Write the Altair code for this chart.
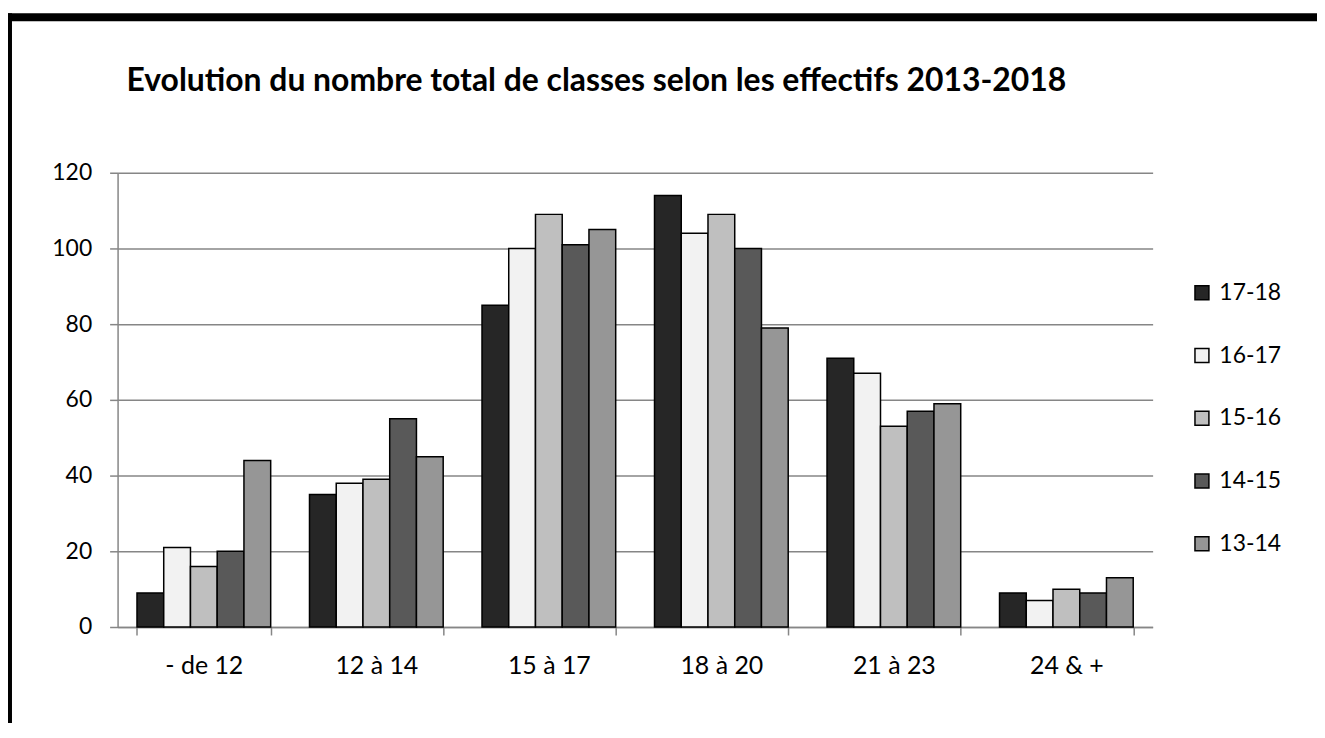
import altair as alt
import pandas as pd

# ---- data ----
categories = ["- de 12", "12 à 14", "15 à 17", "18 à 20", "21 à 23", "24 & +"]
series = ["17-18", "16-17", "15-16", "14-15", "13-14"]
colors = ["#262626", "#f2f2f2", "#bfbfbf", "#595959", "#969696"]
v_17_18 = [9, 35, 85, 114, 71, 9]
v_16_17 = [21, 38, 100, 104, 67, 7]
v_15_16 = [16, 39, 109, 109, 53, 10]
v_14_15 = [20, 55, 101, 100, 57, 9]
v_13_14 = [44, 45, 105, 79, 59, 13]
y_ticks = [0, 20, 40, 60, 80, 100, 120]
title_text = "Evolution du nombre total de classes selon les effectifs 2013-2018"

series_values = [v_17_18, v_16_17, v_15_16, v_14_15, v_13_14]
rows = []
for s, vals in zip(series, series_values):
    for c, v in zip(categories, vals):
        rows.append({"categorie": c, "annee": s, "valeur": v})
df = pd.DataFrame(rows)

FONT = "Lato"
GRID = "#868686"

bars = alt.Chart(df).mark_bar(stroke="black", strokeWidth=1.5).encode(
    x=alt.X(
        "categorie:N",
        sort=categories,
        scale=alt.Scale(paddingInner=0.225, paddingOuter=0.1125),
        axis=alt.Axis(
            title=None, labelAngle=0, tickBand="extent", grid=False,
            labelPadding=19, labelFontSize=25,
        ),
    ),
    xOffset=alt.XOffset("annee:N", sort=series,
                        scale=alt.Scale(paddingInner=0, paddingOuter=0)),
    y=alt.Y(
        "valeur:Q",
        scale=alt.Scale(domain=[0, 120], nice=False),
        axis=alt.Axis(values=y_ticks, title=None, labelPadding=18,
                      labelFontSize=23, grid=True),
    ),
    color=alt.Color(
        "annee:N",
        sort=series,
        scale=alt.Scale(domain=series, range=colors),
        legend=alt.Legend(
            title=None, orient="none", legendX=1077, legendY=109,
            symbolType="square", symbolSize=196, symbolStrokeColor="black",
            symbolStrokeWidth=1.5, symbolOpacity=1, labelFontSize=23,
            labelFont=FONT, labelColor="black", rowPadding=39,
            labelOffset=6, padding=0,
        ),
    ),
)

one = pd.DataFrame({"k": [0]})
top_border = alt.Chart(one).mark_rule(color="black", strokeWidth=8).encode(
    x=alt.value(-111), x2=alt.value(1210), y=alt.value(-156)
)
left_border = alt.Chart(one).mark_rule(color="black", strokeWidth=5).encode(
    x=alt.value(-108.5), y=alt.value(-160), y2=alt.value(560)
)
title = alt.Chart(pd.DataFrame({"t": [title_text]})).mark_text(
    align="left", baseline="alphabetic", fontSize=32, fontWeight="bold",
    font=FONT, color="black"
).encode(x=alt.value(9), y=alt.value(-82), text="t:N")

chart = alt.layer(bars, title, top_border, left_border).properties(
    width=1039,
    height=456,
    padding={"left": 110, "top": 164, "right": 165, "bottom": 95},
    autosize=alt.AutoSizeParams(type="none"),
).configure_view(stroke=None).configure_axis(
    labelFont=FONT, labelColor="black", domainColor=GRID, tickColor=GRID,
    gridColor=GRID, domainWidth=1.5, tickWidth=1.5, gridWidth=1.5, tickSize=8,
)

chart.save("out.html", embed_options={"renderer": "svg", "actions": False})
